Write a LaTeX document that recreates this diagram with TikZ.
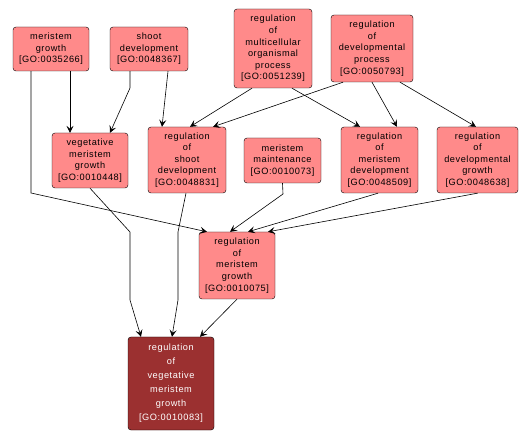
\documentclass[tikz,border=0pt]{standalone}
\usepackage{fontspec}
\newfontfamily\gofont[LetterSpace=6]{Liberation Sans}
\usetikzlibrary{arrows.meta}
\definecolor{termfill}{HTML}{FF8A8A}
\definecolor{focusfill}{HTML}{9B3030}
\tikzset{%
  term/.style     = {draw, rectangle, rounded corners = 3pt, fill = termfill,
    align = center, inner sep = 0pt,
    font = \gofont\fontsize{9.2}{11.6}\selectfont},
  focus/.style    = {term, fill = focusfill, text = white,
    font = \gofont\fontsize{9.2}{14}\selectfont}, % Queried term
  boxsize/.style 2 args = {minimum width = #1pt, minimum height = #2pt},
  edge/.style     = {-{Stealth[length = 7pt, width = 7pt, inset = 3pt]},
    line width = 0.6pt}
}

\begin{document}
\begin{tikzpicture}[x = 1pt, y = -1pt]
\useasboundingbox (0,0) rectangle (531,441);
%top terms
\draw
	(51,49) node [term, boxsize = {76}{44}] (mg) {meristem\\growth\\{[}GO:0035266{]}}
	(149,49) node [term, boxsize = {78}{44}] (sd) {shoot\\development\\{[}GO:0048367{]}}
	(273,48.5) node [term, boxsize = {78}{79}] (rmop) {regulation\\of\\multicellular\\organismal\\process\\{[}GO:0051239{]}}
	(372,48.5) node [term, boxsize = {82}{67}] (rdp) {regulation\\of\\developmental\\process\\{[}GO:0050793{]}};
%middle terms
\draw
	(90,160.5) node [term, boxsize = {76}{55}] (vmg) {vegetative\\meristem\\growth\\{[}GO:0010448{]}}
	(187,160) node [term, boxsize = {78}{66}] (rsd) {regulation\\of\\shoot\\development\\{[}GO:0048831{]}}
	(282.5,160.5) node [term, boxsize = {77}{45}] (mm) {meristem\\maintenance\\{[}GO:0010073{]}}
	(379.5,160) node [term, boxsize = {77}{66}] (rmd) {regulation\\of\\meristem\\development\\{[}GO:0048509{]}}
	(477.5,160) node [term, boxsize = {81}{66}] (rdg) {regulation\\of\\developmental\\growth\\{[}GO:0048638{]}}
	(237,265.5) node [term, boxsize = {76}{67}] (rmg) {regulation\\of\\meristem\\growth\\{[}GO:0010075{]}};
%queried term
\draw (171,383.5) node [focus, boxsize = {86}{93}] (rvmg) {regulation\\of\\vegetative\\meristem\\growth\\{[}GO:0010083{]}};
%top edges
\draw[edge] ([xshift = 19pt]mg.south) -- ([xshift = -20pt]vmg.north);
\draw[edge] ([xshift = -20pt]mg.south) -- (31,193) -- ([xshift = -30pt]rmg.north);
\draw[edge] ([xshift = -19pt]sd.south) -- (130,88) -- ([xshift = 20pt]vmg.north);
\draw[edge] ([xshift = 19pt]sd.south) -- ([xshift = -25pt]rsd.north);
\draw[edge] ([xshift = -21pt]rmop.south) -- ([xshift = 3pt]rsd.north);
\draw[edge] ([xshift = -29pt]rdp.south) -- ([xshift = 26pt]rsd.north);
\draw[edge] ([xshift = 19pt]rmop.south) -- ([xshift = -19.5pt]rmd.north);
\draw[edge] (rdp.south) -- ([xshift = 17.5pt]rmd.north);
\draw[edge] ([xshift = 28pt]rdp.south) -- ([xshift = -1.5pt]rdg.north);
%lower edges
\draw[edge] (vmg.south) -- (130,232) -- (130,300) -- ([xshift = -30pt]rvmg.north);
\draw[edge] ([xshift = -1pt]rsd.south) -- (178,232) -- (178,300) -- ([xshift = 1pt]rvmg.north);
\draw[edge] (rmg.south) -- ([xshift = 29pt]rvmg.north);
\draw[edge] (mm.south) -- (283,194) -- ([xshift = -7pt]rmg.north);
\draw[edge] ([xshift = -1.5pt]rmd.south) -- ([xshift = 11pt]rmg.north);
\draw[edge] (rdg.south) -- ([xshift = 31pt]rmg.north);
\end{tikzpicture}
\end{document}
